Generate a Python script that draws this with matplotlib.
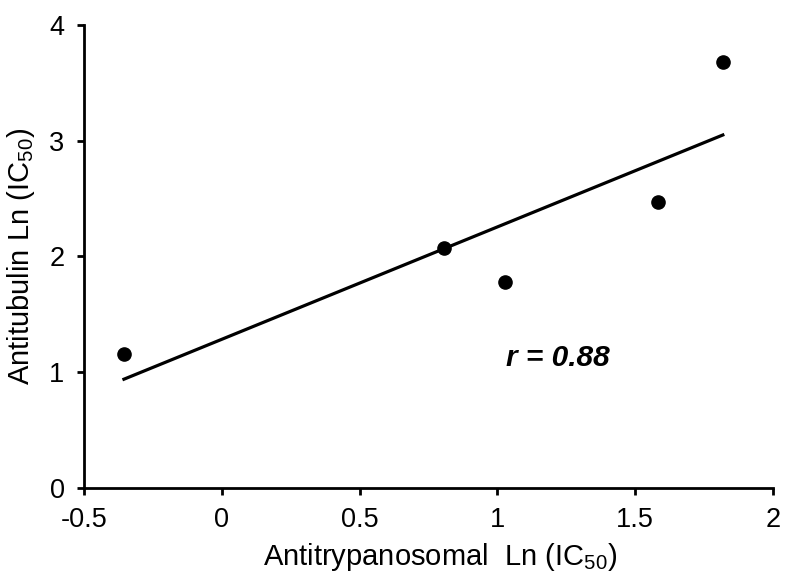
import numpy as np
import matplotlib.pyplot as plt

plt.rcParams['font.family'] = ['Liberation Sans', 'DejaVu Sans']
plt.rcParams['mathtext.fontset'] = 'custom'
plt.rcParams['mathtext.rm'] = 'Liberation Sans'
plt.rcParams['mathtext.default'] = 'regular'

# data
antitryp = [-0.355, 0.808, 1.026, 1.582, 1.818]
antitub = [1.16, 2.07, 1.78, 2.47, 3.68]
x_ticks = [-0.5, 0, 0.5, 1, 1.5, 2]
x_ticklabels = ['-0.5', '0', '0.5', '1', '1.5', '2']
y_ticks = [0, 1, 2, 3, 4]

fig = plt.figure(figsize=(7.87, 5.76), dpi=100)
ax = fig.add_axes([0.1067, 0.1528, 0.8755, 0.8038])

ax.plot(antitryp, antitub, 'o', color='black', markersize=9.5, zorder=3)

# linear trendline
slope, icpt = np.polyfit(antitryp, antitub, 1)
xs = np.array([min(antitryp), max(antitryp)])
ax.plot(xs, slope * xs + icpt, color='black', linewidth=2.3)

r = np.corrcoef(antitryp, antitub)[0, 1]
ax.text(1.03, 1.12, f'r = {r:.2f}', fontsize=21.5, fontweight='bold',
        fontstyle='italic', va='center', ha='left')

ax.set_xlim(-0.5, 2)
ax.set_ylim(0, 4)
ax.set_xticks(x_ticks)
ax.set_xticklabels(x_ticklabels)
ax.set_yticks(y_ticks)

for s in ['top', 'right']:
    ax.spines[s].set_visible(False)
for s in ['left', 'bottom']:
    ax.spines[s].set_linewidth(2)
ax.tick_params(direction='out', length=5, width=2, labelsize=19.5, pad=9)

ax.set_xlabel('Antitrypanosomal  Ln (IC$_{50}$)', fontsize=21)
ax.set_ylabel('Antitubulin Ln (IC$_{50}$)', fontsize=21)
ax.xaxis.set_label_coords(0.517, -0.115)
ax.yaxis.set_label_coords(-0.068, 0.5)

fig.savefig('out.png', dpi=100)
